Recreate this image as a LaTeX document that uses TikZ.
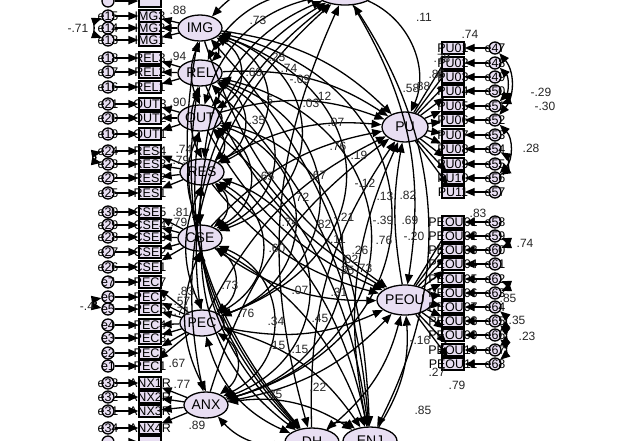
\documentclass[tikz,border=0pt]{standalone}
\usepackage{fontspec}
\setmainfont{Liberation Sans}
\usetikzlibrary{arrows.meta,shapes.geometric}
\definecolor{lav}{HTML}{E8DEF2}
\begin{document}
\begin{tikzpicture}[x=1pt,y=-1pt,
 lat/.style={ellipse,draw,line width=1.3pt,fill=lav,minimum width=44pt,minimum height=26pt,inner sep=0pt,font=\fontsize{14}{14}\selectfont},
 obs/.style={rectangle,draw,line width=1.3pt,fill=lav,minimum width=22pt,minimum height=12pt,inner sep=0pt},
 err/.style={circle,draw,line width=1.3pt,fill=lav,minimum size=12pt,inner sep=0pt},
 txt/.style={inner sep=0pt,font=\fontsize{12.5}{12}\selectfont},
 arr/.style={line width=1.3pt,-{Triangle[length=10pt,width=8pt]}},
 cov/.style={line width=1.3pt,{Triangle[length=10pt,width=8pt]}-{Triangle[length=10pt,width=8pt]}},
 coef/.style={inner sep=0pt,font=\fontsize{12}{12}\selectfont,text=black!85},
]
\useasboundingbox (0,0) rectangle (624,440);
\clip (0,0) rectangle (624,440);
\fill[white] (0,0) rectangle (624,440);

% latent variables
\node[lat] (IMG) at (200,28) {IMG};
\node[lat] (REL) at (200,73) {REL};
\node[lat] (OUT) at (200,118) {OUT};
\node[lat] (RES) at (202,172) {RES};
\node[lat] (CSE) at (200,238) {CSE};
\node[lat] (PEC) at (202,323) {PEC};
\node[lat] (ANX) at (206,405) {ANX};
\node[lat,minimum width=60pt] (TOP) at (345,-8) {};
\node[lat,minimum width=46pt,minimum height=30pt] (PU) at (405,127) {PU};
\node[lat,minimum width=46pt,minimum height=30pt] (PEOU) at (405,300) {PEOU};
\node[lat,minimum width=54pt,minimum height=28pt] (DH) at (312,442) {DH};
\node[lat,minimum width=54pt,minimum height=28pt] (ENJ) at (370,441) {ENJ};

% left indicators
\foreach \y/\e/\b/\L in {
  16/15/3/IMG,28/14/2/IMG,40/13/1/IMG,
  58/18/3/REL,72/17/2/REL,87/16/1/REL,
  104/21/3/OUT,118/20/2/OUT,134/19/1/OUT}{
  \node[obs] (b\e) at (150,\y) {};
  \node[txt] at (b\e) {\L\b};
  \node[err] (e\e) at (108,\y) {};
  \node[txt] at (e\e) {e\e};
  \draw[arr] (e\e) -- (b\e);
  \draw[arr] (\L) -- (b\e);
}
\foreach \y/\e/\b/\L in {
  151/24/4/RES,164/23/3/RES,178/22/2/RES,193/25/1/RES,
  212/30/5/CSE,225/29/4/CSE,237/28/3/CSE,252/27/2/CSE,267/26/1/CSE,
  282/7/7/PEC,297/6/6/PEC,309/5/5/PEC,325/4/4/PEC,338/3/3/PEC,353/2/2/PEC,366/1/1/PEC,
  383/33/1R/ANX,397/32/2R/ANX,411/31/3R/ANX,428/34/4R/ANX}{
  \node[obs] (b\e) at (150,\y) {};
  \node[txt] at (b\e) {\L\b};
  \node[err] (e\e) at (108,\y) {};
  \node[txt] at (e\e) {e\e};
  \draw[arr] (e\e) -- (b\e);
  \draw[arr] (\L) -- (b\e);
}
\node[obs] (btop) at (150,1) {};
\node[err] (etop) at (108,1) {};
\draw[arr] (etop) -- (btop);
\node[obs] (bbot) at (150,442) {};
\node[err] (ebot) at (108,442) {};
\draw[arr] (ebot) -- (bbot);

% right indicators PU
\foreach \y/\e/\b in {48/47/01,63/48/02,77/49/03,91/50/04,106/51/05,120/52/06,
  135/53/07,149/54/08,164/55/09,178/56/10,192/57/11}{
  \node[obs] (b\e) at (453,\y) {};
  \node[txt] at (b\e) {PU\b};
  \node[err] (e\e) at (495,\y) {};
  \node[txt] at (e\e) {e\e};
  \draw[arr] (e\e) -- (b\e);
  \draw[arr] (PU) -- (b\e);
}
% right indicators PEOU
\foreach \y/\e/\b in {222/58/01,236/59/02,250/60/03,264/61/04,279/62/05,293/63/06,
  307/64/07,321/65/08,335/66/09,350/67/10,364/68/11}{
  \node[obs] (b\e) at (453,\y) {};
  \node[txt] at (b\e) {PEOU\b};
  \node[err] (e\e) at (495,\y) {};
  \node[txt] at (e\e) {e\e};
  \draw[arr] (e\e) -- (b\e);
  \draw[arr] (PEOU) -- (b\e);
}

% error covariances
\draw[cov] (e15) to[bend right=70] (e13);
\draw[cov] (e24) to[bend right=80] (e23);
\draw[cov] (e6) to[bend right=80] (e5);
\draw[cov] (e47) to[bend left=40] (e52);
\draw[cov] (e48) to[bend left=45] (e51);
\draw[cov] (e50) to[bend left=70] (e51);
\draw[cov] (e52) to[bend left=45] (e56);
\draw[cov] (e54) to[bend left=60] (e56);
\draw[cov] (e59) to[bend left=70] (e60);
\draw[cov] (e62) to[bend left=70] (e63);
\draw[cov] (e64) to[bend left=50] (e66);
\draw[cov] (e65) to[bend left=50] (e67);
\draw[cov] (e66) to[bend left=50] (e68);

% covariances among left latents
\foreach \a/\b/\g/\l in {IMG/REL/45/1.2,IMG/OUT/60/1.3,IMG/RES/65/1.4,IMG/CSE/70/1.5,IMG/PEC/70/1.6,IMG/ANX/75/1.6,
  REL/OUT/45/1.2,REL/RES/60/1.3,REL/CSE/65/1.4,REL/PEC/70/1.5,REL/ANX/75/1.6,
  OUT/RES/50/1.2,OUT/CSE/60/1.3,OUT/PEC/70/1.4,OUT/ANX/75/1.5,
  RES/CSE/50/1.2,RES/PEC/60/1.3,RES/ANX/70/1.4,CSE/PEC/55/1.2,CSE/ANX/65/1.3,PEC/ANX/55/1.2}{
  \draw[cov] (\a) to[bend left=\g,looseness=\l] (\b);
}
\foreach \a/\b in {IMG/OUT,REL/RES,OUT/CSE,CSE/ANX,RES/PEC}{
  \draw[cov] (\a.south) to[bend right=25] (\b.north);
}
\foreach \a in {IMG,REL,OUT,RES,CSE,PEC,ANX}{
  \draw[cov] (\a) to[bend left=30] (TOP);
  \draw[cov] (\a) to[bend right=25] (DH);
  \draw[cov] (\a) to[bend left=20] (ENJ);
}
\draw[cov] (TOP) to[bend left=30] (ENJ);
\draw[cov] (TOP) to[bend right=20] (DH);
\draw[cov] (DH) to[bend left=40] (ENJ);

% structural paths
\foreach \a in {IMG,REL,OUT,RES,CSE,PEC,ANX,DH,ENJ}{
  \draw[arr] (\a) to[bend left=18] (PU);
  \draw[arr] (\a) to[bend right=18] (PEOU);
}
\draw[arr] (TOP) to[bend left=45] (PU);
\draw[arr] (TOP) to[bend left=20] (PEOU);
\draw[arr] (PEOU) to[bend left=10] (PU);

% coefficient labels
\foreach \x/\y/\t in {
 178/10/.88, 78/28/-.71, 178/56/.94, 178/102/.90, 184/149/.74, 181/160/.79,
 181/212/.81, 179/222/.79, 186/291/.83, 182/301/.57, 182/311/.71, 177/363/.67,
 182/384/.77, 197/425/.89, 87/306/-.4,
 258/20/.73, 277/57/.25, 254/72/.60, 289/68/.74, 300/79/-.09, 268/100/.5,
 311/103/.03, 323/96/.12, 336/122/.07, 338/146/.76, 357/155/-.19, 424/17/.11,
 470/34/.74, 442/58/.78, 437/74/.86, 411/88/.58, 422/86/.88, 257/120/.35,
 541/92/-.29, 545/106/-.30, 531/148/.28, 385/196/.13, 408/195/.82,
 266/176/.65, 318/175/.67, 365/183/-.12, 301/197/.72, 290/222/.74, 323/224/.82,
 344/217/-.21, 383/220/-.39, 410/220/.69, 277/248/.60, 336/239/-.11, 360/250/.26,
 384/240/.76, 414/236/-.20, 350/259/.02, 346/270/.35, 364/268/.73, 230/285/.73,
 246/313/.76, 300/290/.07, 339/292/.31, 276/321/.34, 320/318/.45, 277/345/.15,
 300/349/.15, 274/394/.25, 318/387/.22, 420/340/-.16, 437/372/.27, 457/385/.79,
 423/410/.85, 478/213/.83, 525/243/.74, 508/298/.85, 517/320/.35, 527/336/.23}{
  \node[coef] at (\x,\y) {\t};
}
\end{tikzpicture}
\end{document}
